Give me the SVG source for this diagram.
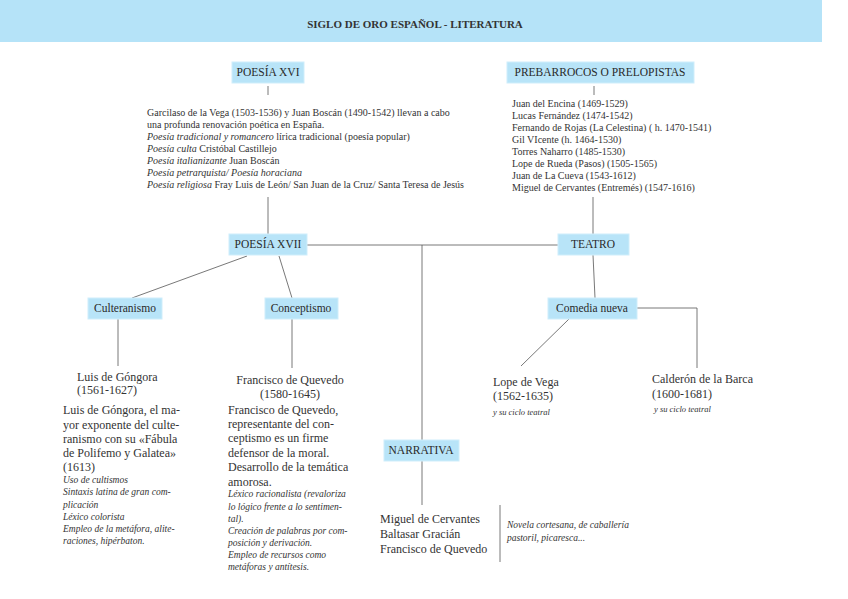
<svg xmlns="http://www.w3.org/2000/svg" width="848" height="599" viewBox="0 0 848 599">
<style>
text{font-family:"Liberation Serif","DejaVu Serif",serif;fill:#333}
.box{fill:#b8e4f8;stroke:#cfeefb;stroke-width:1}
.lbl{font-size:11.5px;text-anchor:middle;fill:#2a2a2a}
.sm{font-size:10px}
.nm{font-size:12px}
.it{font-size:9.5px;font-style:italic}
.its{font-size:8.5px;font-style:italic}
.c{text-anchor:middle}
#connectors line,#connectors polyline{stroke:#555;stroke-width:0.8;fill:none}
</style>
<rect x="0" y="0" width="822" height="42" fill="#b5e3f8"/>
<text x="415" y="28" font-size="11" font-weight="bold" text-anchor="middle" fill="#222">SIGLO DE ORO ESPAÑOL - LITERATURA</text>
<g id="connectors">
<line x1="268" y1="86" x2="268" y2="95"/>
<line x1="594" y1="86" x2="594" y2="95"/>
<line x1="268" y1="197" x2="268" y2="234"/>
<line x1="593" y1="197" x2="593" y2="234"/>
<line x1="307" y1="245" x2="558" y2="245"/>
<line x1="422" y1="245" x2="422" y2="440"/>
<line x1="247" y1="256" x2="132" y2="298"/>
<line x1="279" y1="256" x2="292" y2="298"/>
<line x1="118" y1="319" x2="118" y2="366"/>
<line x1="292" y1="319" x2="292" y2="368"/>
<line x1="593" y1="255" x2="595" y2="298"/>
<line x1="569" y1="319" x2="521" y2="366"/>
<polyline points="637,308 697,308 697,368"/>
<line x1="422" y1="461" x2="422" y2="505"/>
<line x1="500" y1="505" x2="500" y2="562"/>
</g>
<g id="poesia16">
<rect class="box" x="232" y="62" width="72" height="21"/>
<text class="lbl" x="268" y="76">POESÍA XVI</text>
</g>
<g id="poesia16-text">
<text class="sm" x="147" y="116">Garcilaso de la Vega (1503-1536)  y Juan Boscán (1490-1542)  llevan a cabo</text>
<text class="sm" x="147" y="128">una profunda renovación poética en España.</text>
<text class="sm" x="147" y="140"><tspan font-style="italic">Poesía tradicional y romancero</tspan> lírica tradicional (poesía popular)</text>
<text class="sm" x="147" y="152"><tspan font-style="italic">Poesía culta</tspan> Cristóbal Castillejo</text>
<text class="sm" x="147" y="164"><tspan font-style="italic">Poesía italianizante</tspan> Juan Boscán</text>
<text class="sm" x="147" y="176"><tspan font-style="italic">Poesía petrarquista/ Poesía horaciana</tspan></text>
<text class="sm" x="147" y="188"><tspan font-style="italic">Poesía religiosa</tspan>  Fray Luis de León/ San Juan de la Cruz/ Santa Teresa de Jesús</text>
</g>
<g id="prebarrocos">
<rect class="box" x="507" y="62" width="187" height="21"/>
<text class="lbl" x="600" y="76">PREBARROCOS O PRELOPISTAS</text>
</g>
<g id="prebarrocos-text">
<text class="sm" x="512" y="107">Juan del Encina (1469-1529)</text>
<text class="sm" x="512" y="119">Lucas Fernández (1474-1542)</text>
<text class="sm" x="512" y="131">Fernando de Rojas (La Celestina) ( h. 1470-1541)</text>
<text class="sm" x="512" y="143">Gil VIcente (h. 1464-1530)</text>
<text class="sm" x="512" y="155">Torres Naharro (1485-1530)</text>
<text class="sm" x="512" y="167">Lope de Rueda (Pasos) (1505-1565)</text>
<text class="sm" x="512" y="179">Juan de La Cueva (1543-1612)</text>
<text class="sm" x="512" y="191">Miguel de Cervantes (Entremés) (1547-1616)</text>
</g>
<g id="poesia17">
<rect class="box" x="229" y="234" width="78" height="21"/>
<text class="lbl" x="268" y="248">POESÍA XVII</text>
</g>
<g id="teatro">
<rect class="box" x="558" y="234" width="71" height="21"/>
<text class="lbl" x="593" y="248">TEATRO</text>
</g>
<g id="culteranismo">
<rect class="box" x="88" y="298" width="74" height="21"/>
<text class="lbl" x="125" y="312">Culteranismo</text>
</g>
<g id="conceptismo">
<rect class="box" x="265" y="298" width="73" height="21"/>
<text class="lbl" x="301" y="312">Conceptismo</text>
</g>
<g id="comedia">
<rect class="box" x="548" y="298" width="89" height="21"/>
<text class="lbl" x="592" y="312">Comedia nueva</text>
</g>
<g id="narrativa">
<rect class="box" x="384" y="440" width="75" height="21"/>
<text class="lbl" x="421" y="454">NARRATIVA</text>
</g>
<g id="gongora">
<text class="nm" x="77" y="381">Luis de Góngora</text>
<text class="nm" x="77" y="394"> (1561-1627)</text>
<text class="nm" x="63" y="414">Luis de Góngora, el ma-</text>
<text class="nm" x="63" y="429">yor exponente del culte-</text>
<text class="nm" x="63" y="443">ranismo con su «Fábula</text>
<text class="nm" x="63" y="457">de Polifemo y Galatea»</text>
<text class="nm" x="63" y="471">(1613)</text>
<text class="it" x="63" y="483">Uso de cultismos</text>
<text class="it" x="63" y="495">Sintaxis latina de gran com-</text>
<text class="it" x="63" y="508">plicación</text>
<text class="it" x="63" y="520">Léxico colorista</text>
<text class="it" x="63" y="532">Empleo de la metáfora, alite-</text>
<text class="it" x="63" y="544">raciones, hipérbaton.</text>
</g>
<g id="quevedo">
<text class="nm c" x="290" y="384">Francisco de Quevedo</text>
<text class="nm c" x="290" y="398">(1580-1645)</text>
<text class="nm" x="228" y="414">Francisco de Quevedo,</text>
<text class="nm" x="228" y="428">representante del con-</text>
<text class="nm" x="228" y="442">ceptismo es un firme</text>
<text class="nm" x="228" y="457">defensor de la moral.</text>
<text class="nm" x="228" y="471">Desarrollo de la temática</text>
<text class="nm" x="228" y="486">amorosa.</text>
<text class="it" x="228" y="497">Léxico racionalista (revaloriza</text>
<text class="it" x="228" y="510">lo lógico frente a lo sentimen-</text>
<text class="it" x="228" y="522">tal).</text>
<text class="it" x="228" y="534">Creación de palabras por com-</text>
<text class="it" x="228" y="546">posición y derivación.</text>
<text class="it" x="228" y="558">Empleo de recursos como</text>
<text class="it" x="228" y="570">metáforas y antítesis.</text>
</g>
<g id="lope">
<text class="nm" x="493" y="386">Lope de Vega</text>
<text class="nm" x="493" y="400">(1562-1635)</text>
<text class="its" x="493" y="415">y su ciclo teatral</text>
</g>
<g id="calderon">
<text class="nm" x="652" y="383">Calderón de la Barca</text>
<text class="nm" x="652" y="398">(1600-1681)</text>
<text class="its" x="654" y="412">y su ciclo teatral</text>
</g>
<g id="narrativa-text">
<text class="nm" x="380" y="523">Miguel de Cervantes</text>
<text class="nm" x="380" y="538">Baltasar Gracián</text>
<text class="nm" x="380" y="553">Francisco de Quevedo</text>
<text class="it" x="507" y="528">Novela cortesana, de caballería</text>
<text class="it" x="507" y="541">pastoril, picaresca...</text>
</g>
</svg>
